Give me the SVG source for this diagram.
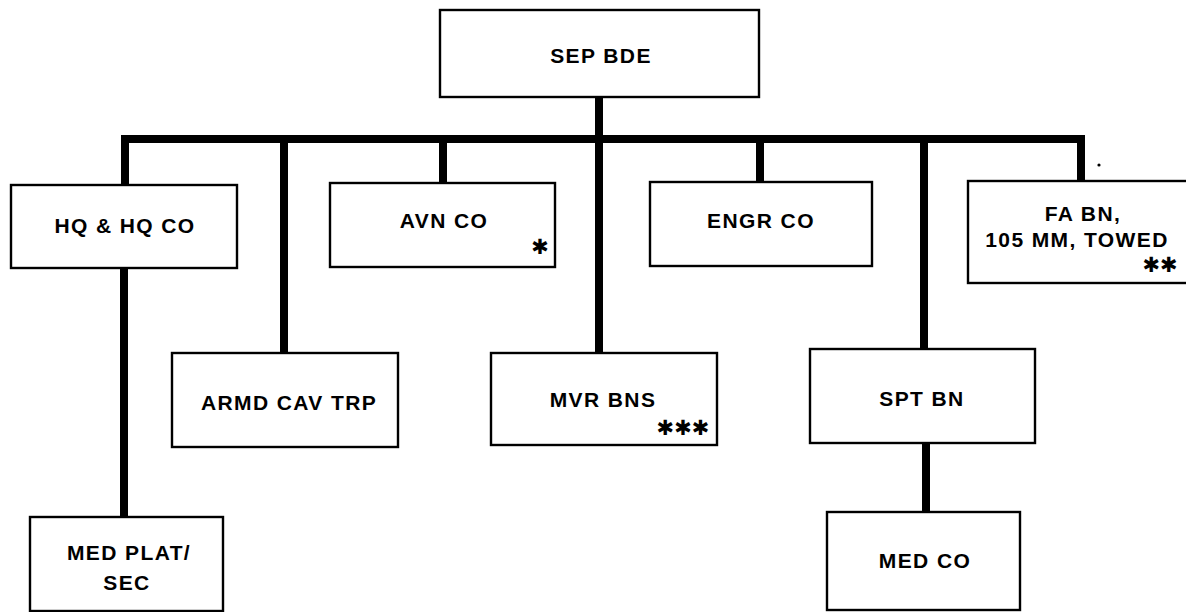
<svg xmlns="http://www.w3.org/2000/svg" width="1186" height="612" viewBox="0 0 1186 612">
<style>
.box{fill:#fff;stroke:#000;stroke-width:2.4}
.lbl{font-family:"Liberation Sans",Arial,sans-serif;font-weight:bold;font-size:21px;letter-spacing:1.4px;fill:#000;text-anchor:middle}
.ast{font-family:"DejaVu Sans",sans-serif;font-size:21px;fill:#000;text-anchor:middle;dominant-baseline:central}
.con{fill:none;stroke:#000;stroke-width:8;stroke-linejoin:miter;stroke-linecap:butt}
</style>
<rect width="1186" height="612" fill="#fff"/>
<g id="connectors">
<path class="con" d="M125 186 V139 H1081 V182"/>
<path class="con" d="M599 97 V354"/>
<path class="con" d="M443 139 V184"/>
<path class="con" d="M284 139 V354"/>
<path class="con" d="M760 139 V183"/>
<path class="con" d="M924 139 V350"/>
<path class="con" d="M124 268 V518"/>
<path class="con" d="M926 443 V513"/>
</g>
<g id="sep-bde"><rect class="box" x="440" y="10" width="319" height="87"/><text class="lbl" x="601" y="63">SEP BDE</text></g>
<g id="hq-co"><rect class="box" x="11" y="185" width="226" height="83"/><text class="lbl" x="125" y="233">HQ &amp; HQ CO</text></g>
<g id="avn-co"><rect class="box" x="330" y="183" width="225" height="84"/><text class="lbl" x="444" y="228">AVN CO</text><text class="ast" x="540" y="247">✱</text></g>
<g id="engr-co"><rect class="box" x="650" y="182" width="222" height="84"/><text class="lbl" x="761" y="228">ENGR CO</text></g>
<g id="fa-bn"><rect class="box" x="968" y="181" width="222" height="102"/><text class="lbl" x="1083" y="221">FA BN,</text><text class="lbl" x="1077" y="247">105 MM, TOWED</text><text class="ast" x="1160" y="265">✱✱</text></g>
<circle cx="1099" cy="165" r="1.6" fill="#000"/>
<g id="armd-cav-trp"><rect class="box" x="172" y="353" width="226" height="94"/><text class="lbl" x="289" y="410">ARMD CAV TRP</text></g>
<g id="mvr-bns"><rect class="box" x="491" y="353" width="226" height="92"/><text class="lbl" x="603" y="407">MVR BNS</text><text class="ast" x="683" y="428">✱✱✱</text></g>
<g id="spt-bn"><rect class="box" x="810" y="349" width="225" height="94"/><text class="lbl" x="922" y="406">SPT BN</text></g>
<g id="med-plat-sec"><rect class="box" x="30" y="517" width="193" height="94"/><text class="lbl" x="129" y="560">MED PLAT/</text><text class="lbl" x="127" y="590">SEC</text></g>
<g id="med-co"><rect class="box" x="827" y="512" width="193" height="98"/><text class="lbl" x="925" y="568">MED CO</text></g>
</svg>
